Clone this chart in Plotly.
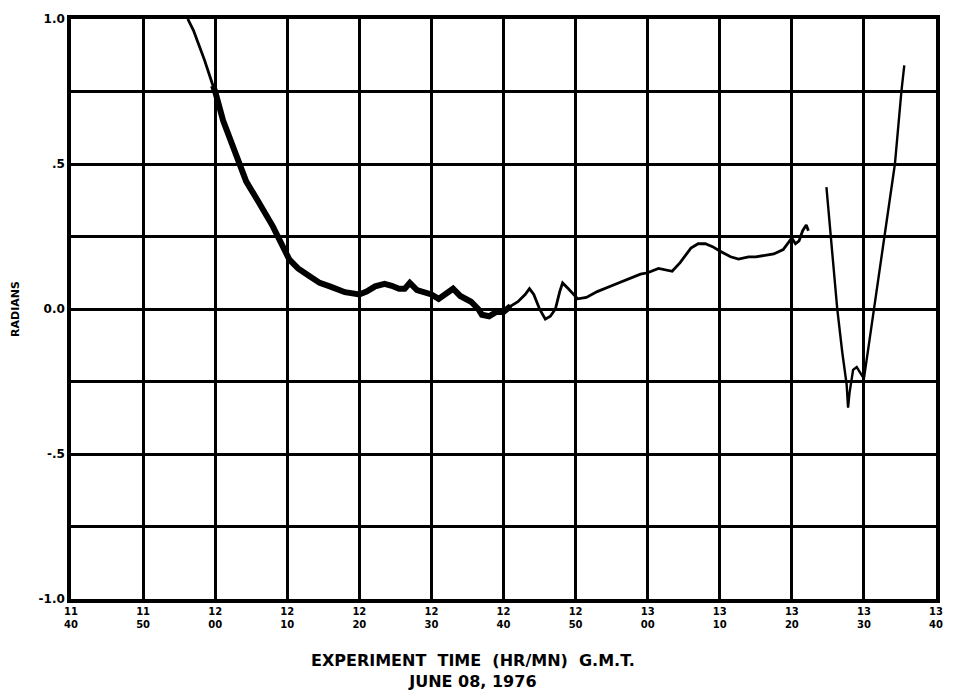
import plotly.graph_objects as go

# Attitude angle record, minutes after 11:00 G.M.T. versus radians
pass1_min = [56.2, 57.0, 57.6, 58.5, 59.7, 60.0, 61.1, 62.0, 63.0, 64.3, 66.0, 68.0,
             70.3, 71.5, 73.0, 74.5, 76.0, 78.0, 80.0, 81.0, 82.2, 83.5, 84.5, 85.5,
             86.3, 87.0, 88.0, 89.0, 90.0, 91.0, 92.0, 93.0, 94.0, 95.5, 96.5, 97.0,
             98.0, 99.0, 100.0, 101.0, 102.0, 103.0, 103.6, 104.2, 105.0, 105.8, 106.5,
             107.2, 107.8, 108.2, 109.0, 110.3, 111.5, 113.0, 115.0, 117.0, 119.0, 120.0,
             121.5, 123.4, 124.5, 126.0, 127.0, 128.0, 129.0, 130.0, 131.5, 132.6, 134.0,
             135.0, 136.6, 137.5, 138.8, 139.5, 140.0, 140.5, 141.0, 141.5, 142.0, 142.3]
pass1_rad = [1.0, 0.96, 0.92, 0.86, 0.77, 0.75, 0.65, 0.59, 0.53, 0.44, 0.37, 0.285,
             0.17, 0.14, 0.115, 0.09, 0.077, 0.058, 0.05, 0.06, 0.078, 0.087, 0.08, 0.07,
             0.07, 0.09, 0.065, 0.06, 0.05, 0.035, 0.05, 0.07, 0.045, 0.025, 0.0, -0.02,
             -0.025, -0.01, -0.01, 0.01, 0.025, 0.05, 0.07, 0.05, 0.0, -0.035, -0.025,
             0.0, 0.06, 0.09, 0.07, 0.035, 0.04, 0.06, 0.08, 0.10, 0.12, 0.125,
             0.14, 0.13, 0.16, 0.21, 0.225, 0.225, 0.215, 0.2, 0.18, 0.172, 0.18,
             0.18, 0.185, 0.19, 0.205, 0.23, 0.245, 0.225, 0.235, 0.27, 0.29, 0.27]

pass2_min = [144.8, 145.8, 146.3, 147.0, 147.6, 147.8, 148.0, 148.5, 149.0, 149.5,
             150.0, 150.7, 151.4, 152.1, 152.8, 153.6, 154.3, 155.2, 155.6]
pass2_rad = [0.42, 0.13, 0.0, -0.15, -0.26, -0.34, -0.29, -0.21, -0.2, -0.22,
             -0.24, -0.12, 0.0, 0.13, 0.25, 0.38, 0.5, 0.75, 0.84]

# Noisy stretch of the first pass drawn heavier
noisy_from, noisy_to = 59.7, 101.0

x_tick_min = [40, 50, 60, 70, 80, 90, 100, 110, 120, 130, 140, 150, 160]
x_tick_text = ["11<br>40", "11<br>50", "12<br>00", "12<br>10", "12<br>20", "12<br>30",
               "12<br>40", "12<br>50", "13<br>00", "13<br>10", "13<br>20", "13<br>30",
               "13<br>40"]
y_tick_val = [-1.0, -0.75, -0.5, -0.25, 0.0, 0.25, 0.5, 0.75, 1.0]
y_tick_text = ["-1.0", "", "-.5", "", "0.0", "", ".5", "", "1.0"]

ink = "#000000"
font = dict(family="DejaVu Sans, Liberation Sans, sans-serif", size=11, color=ink)

fig = go.Figure()
fig.add_trace(go.Scatter(x=pass1_min, y=pass1_rad, mode="lines",
                         line=dict(color=ink, width=2.8), hoverinfo="skip"))
nx = [t for t in pass1_min if noisy_from <= t <= noisy_to]
ny = [v for t, v in zip(pass1_min, pass1_rad) if noisy_from <= t <= noisy_to]
fig.add_trace(go.Scatter(x=nx, y=ny, mode="lines",
                         line=dict(color=ink, width=6), hoverinfo="skip"))
fig.add_trace(go.Scatter(x=pass2_min, y=pass2_rad, mode="lines",
                         line=dict(color=ink, width=2.4), hoverinfo="skip"))

fig.update_layout(
    width=955, height=694,
    margin=dict(l=71, r=15, t=19, b=95),
    paper_bgcolor="white", plot_bgcolor="white",
    showlegend=False,
    font=font,
    xaxis=dict(range=[40, 160], tickvals=x_tick_min,
               ticktext=[f"<b>{t}</b>" for t in x_tick_text],
               showgrid=True, gridcolor=ink, gridwidth=3,
               showline=True, linecolor=ink, linewidth=3.5, mirror=True,
               ticks="", zeroline=False, tickfont=dict(size=10)),
    yaxis=dict(range=[-1.0, 1.0], tickvals=y_tick_val,
               ticktext=[f"<b>{t}</b>" if t else "" for t in y_tick_text],
               showgrid=True, gridcolor=ink, gridwidth=3,
               showline=True, linecolor=ink, linewidth=3.5, mirror=True,
               ticks="", zeroline=False, tickfont=dict(size=12),
               title=dict(text="<b>RADIANS</b>", font=dict(size=11), standoff=18)),
    annotations=[dict(text="<b>EXPERIMENT  TIME  (HR/MN)  G.M.T.</b><br><b>JUNE 08, 1976</b>",
                      xref="paper", yref="paper", x=0.465, y=-0.124,
                      xanchor="center", yanchor="middle", showarrow=False,
                      font=dict(size=16), align="center")],
)

fig.write_html("out.html")
